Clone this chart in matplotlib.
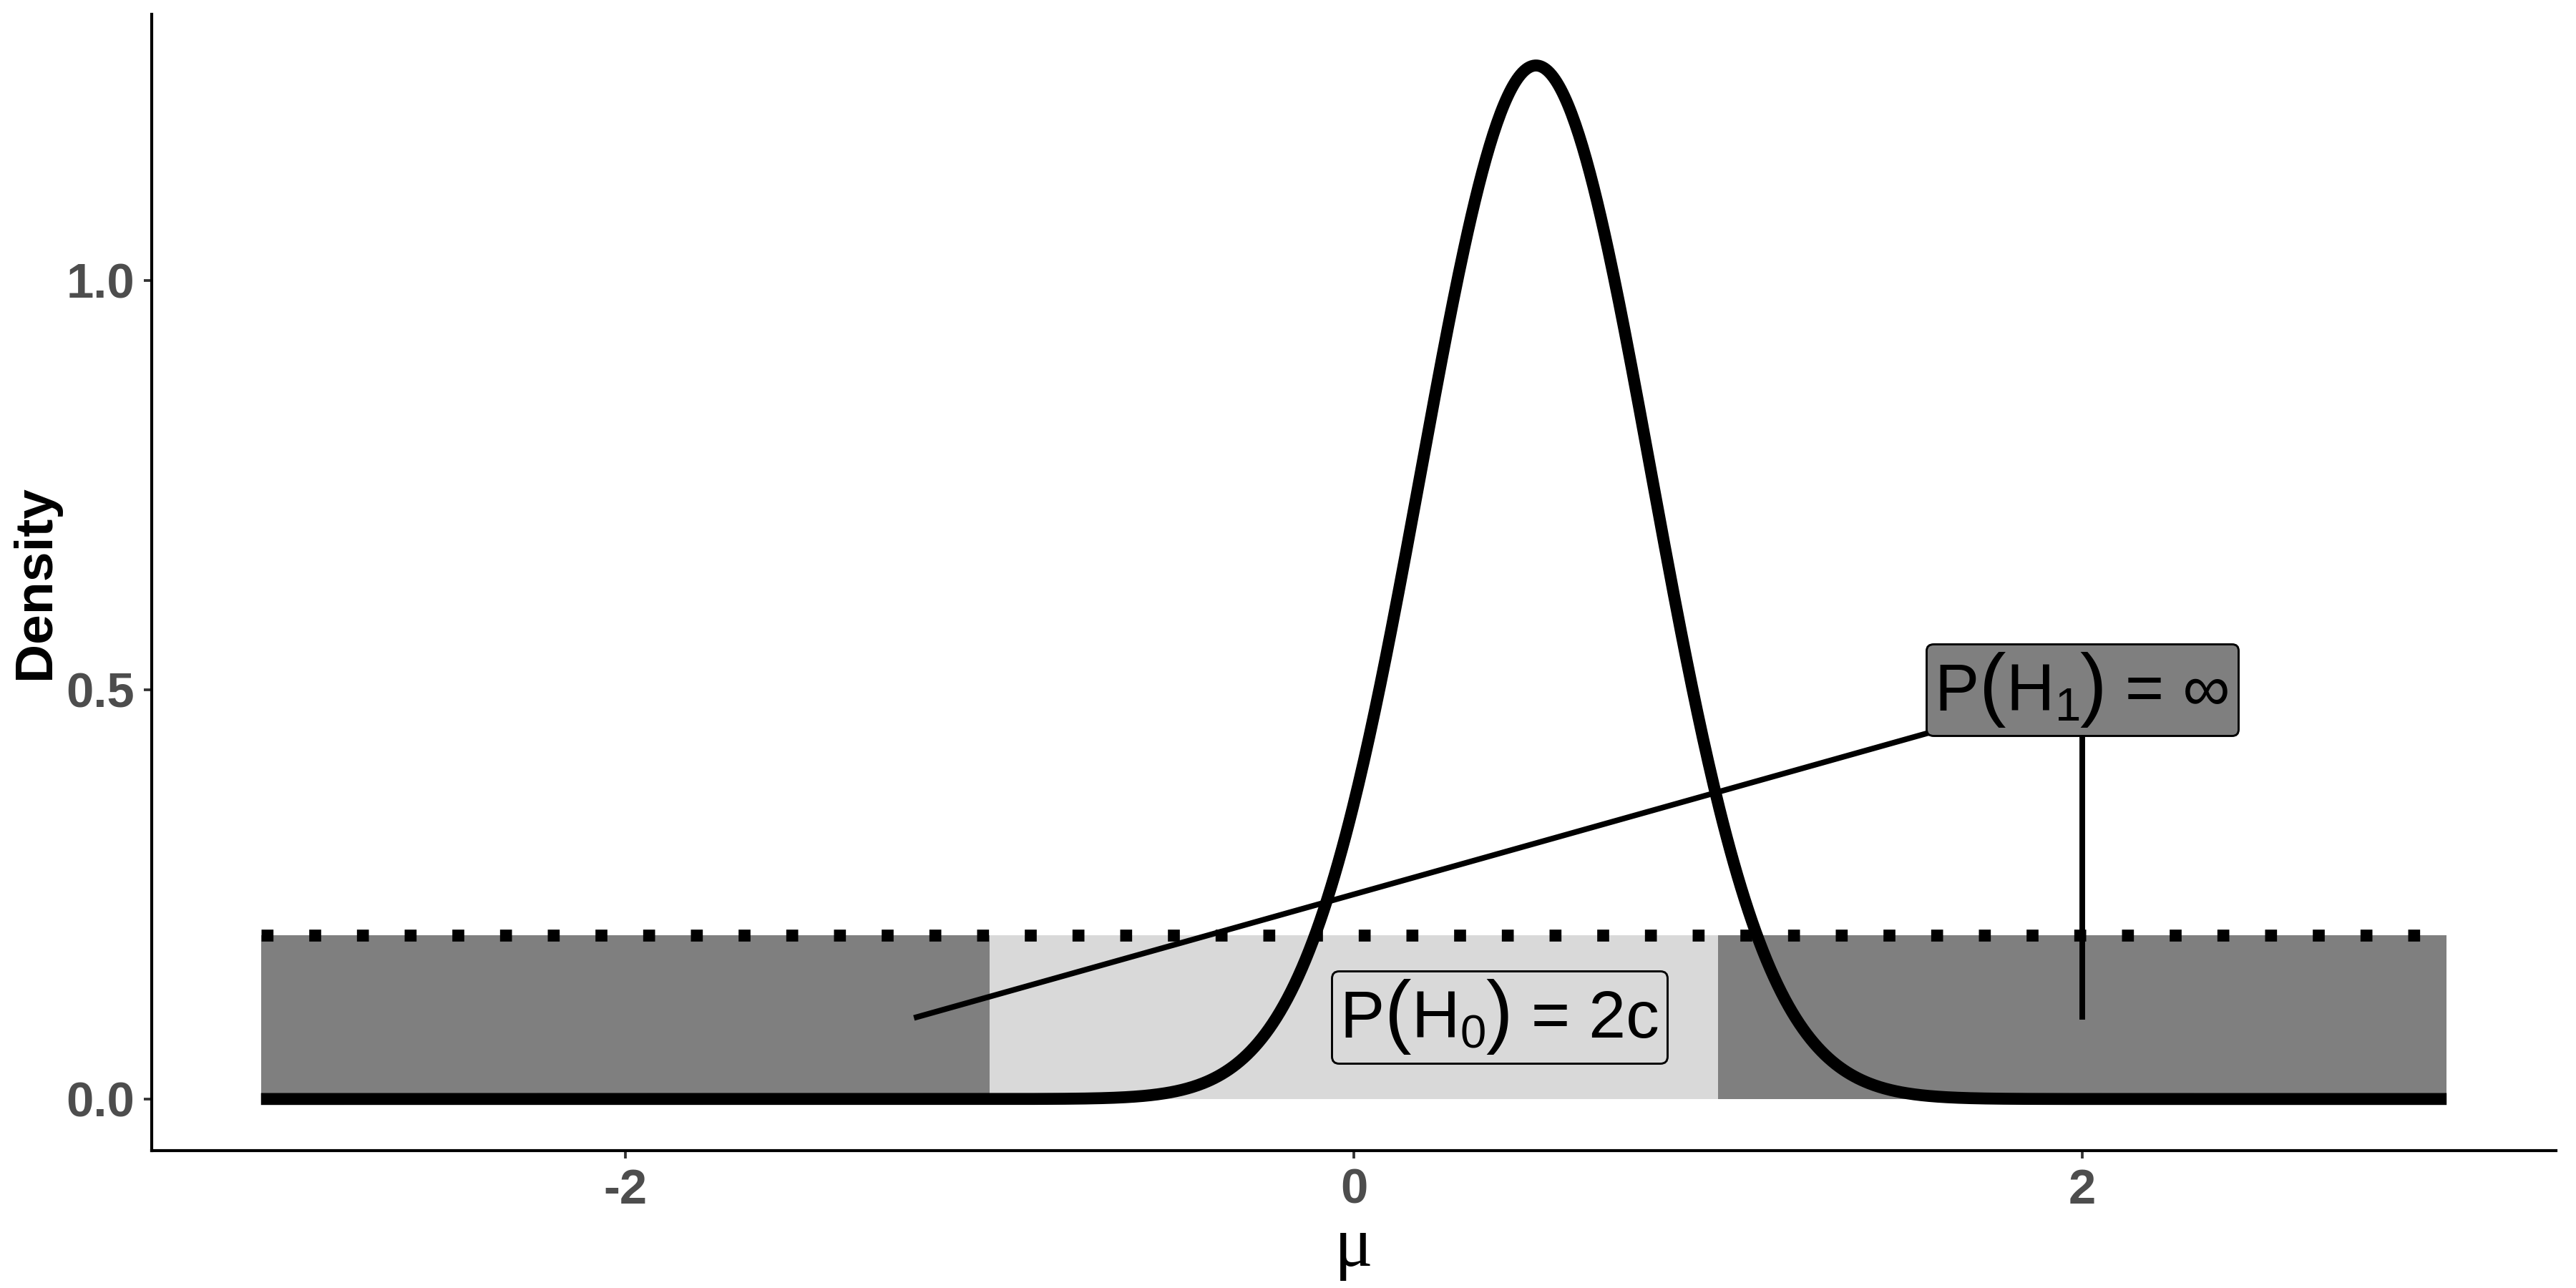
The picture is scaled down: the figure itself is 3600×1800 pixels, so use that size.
import matplotlib
matplotlib.use("Agg")
import matplotlib.pyplot as plt
from matplotlib.offsetbox import AnnotationBbox, HPacker, TextArea
import numpy as np

plt.rcParams["font.family"] = ["Liberation Sans", "DejaVu Sans"]
plt.rcParams["mathtext.fontset"] = "custom"
plt.rcParams["mathtext.rm"] = "Liberation Sans"
plt.rcParams["mathtext.it"] = "Liberation Sans"

# prior regions (uniform prior of height 0.2 on [-3, 3])
region_start = [-3.0, -1.0, 1.0]
region_end = [-1.0, 1.0, 3.0]
region_fill = ["#7f7f7f", "#d9d9d9", "#7f7f7f"]
prior_height = 0.2

# posterior density: peak ~1.26 at mu = 0.5
post_mean = 0.5
post_sd = 0.316

# labels: (subscript, right hand side), where they sit, what they point to
h0_parts = ("0", "2c")
h0_pos = (0.4, 0.1)
h0_fill = "#d9d9d9"
h1_parts = ("1", "∞")
h1_pos = (2.0, 0.5)
h1_fill = "#7f7f7f"
h1_targets_x = [-1.2, 2.0]
h1_targets_y = [0.1, 0.1]

x_ticks = [-2, 0, 2]
y_ticks = [0.0, 0.5, 1.0]
y_ticklabels = ["0.0", "0.5", "1.0"]

LABEL_SIZE = 22.4


def prob_label(ax, sub, rhs, pos, fill):
    """P(H_sub) = rhs with tall parentheses, like plotmath's bgroup."""
    txt = dict(fontsize=LABEL_SIZE, color="black")
    paren = dict(fontsize=27, color="black")
    pieces = [TextArea("P", textprops=txt), TextArea("(", textprops=paren),
              TextArea(r"$\mathrm{H}_{%s}$" % sub, textprops=txt),
              TextArea(")", textprops=paren), TextArea(" = " + rhs, textprops=txt)]
    box = HPacker(children=pieces, align="baseline", pad=0, sep=0)
    ab = AnnotationBbox(box, pos, xycoords="data", frameon=True, fontsize=LABEL_SIZE,
                        bboxprops=dict(boxstyle="round,pad=0.12,rounding_size=0.1",
                                       facecolor=fill, edgecolor="black", linewidth=0.7))
    ab.set_zorder(5)
    ax.add_artist(ab)


fig = plt.figure(figsize=(12, 6), dpi=300)
ax = fig.add_axes([0.0589, 0.1067, 0.9333, 0.8822])

for x0, x1, col in zip(region_start, region_end, region_fill):
    ax.fill_between([x0, x1], 0, prior_height, color=col, linewidth=0, zorder=1)

ax.plot([region_start[0], region_end[-1]], [prior_height, prior_height], color="black",
        linewidth=4.0, dashes=(1, 3), dash_capstyle="butt", zorder=2)

mu = np.linspace(region_start[0], region_end[-1], 1200)
dens = np.exp(-0.5 * ((mu - post_mean) / post_sd) ** 2) / (post_sd * np.sqrt(2 * np.pi))
ax.plot(mu, dens, color="black", linewidth=4.0, solid_capstyle="butt", zorder=3)

for tx, ty in zip(h1_targets_x, h1_targets_y):
    ax.plot([tx, h1_pos[0]], [ty, h1_pos[1]], color="black", linewidth=1.9, zorder=4)

prob_label(ax, *h1_parts, h1_pos, h1_fill)
prob_label(ax, *h0_parts, h0_pos, h0_fill)

ax.set_xlim(-3.3, 3.3)
ax.set_ylim(-0.063, 1.325)
ax.set_xticks(x_ticks)
ax.set_xticklabels([str(t) for t in x_ticks])
ax.set_yticks(y_ticks)
ax.set_yticklabels(y_ticklabels)
for lab in ax.get_xticklabels() + ax.get_yticklabels():
    lab.set_fontweight("bold")
    lab.set_fontsize(16.5)
    lab.set_color("#4d4d4d")
ax.tick_params(length=2.7, width=0.9, color="#333333", pad=3)
for side in ["top", "right"]:
    ax.spines[side].set_visible(False)
for side in ["left", "bottom"]:
    ax.spines[side].set_linewidth(1.0)

ax.set_xlabel("μ", fontsize=24, family=["Liberation Serif", "DejaVu Serif"], labelpad=1)
ax.set_ylabel("Density", fontsize=18, fontweight="bold", labelpad=2)

fig.savefig("out.png", dpi=300)
